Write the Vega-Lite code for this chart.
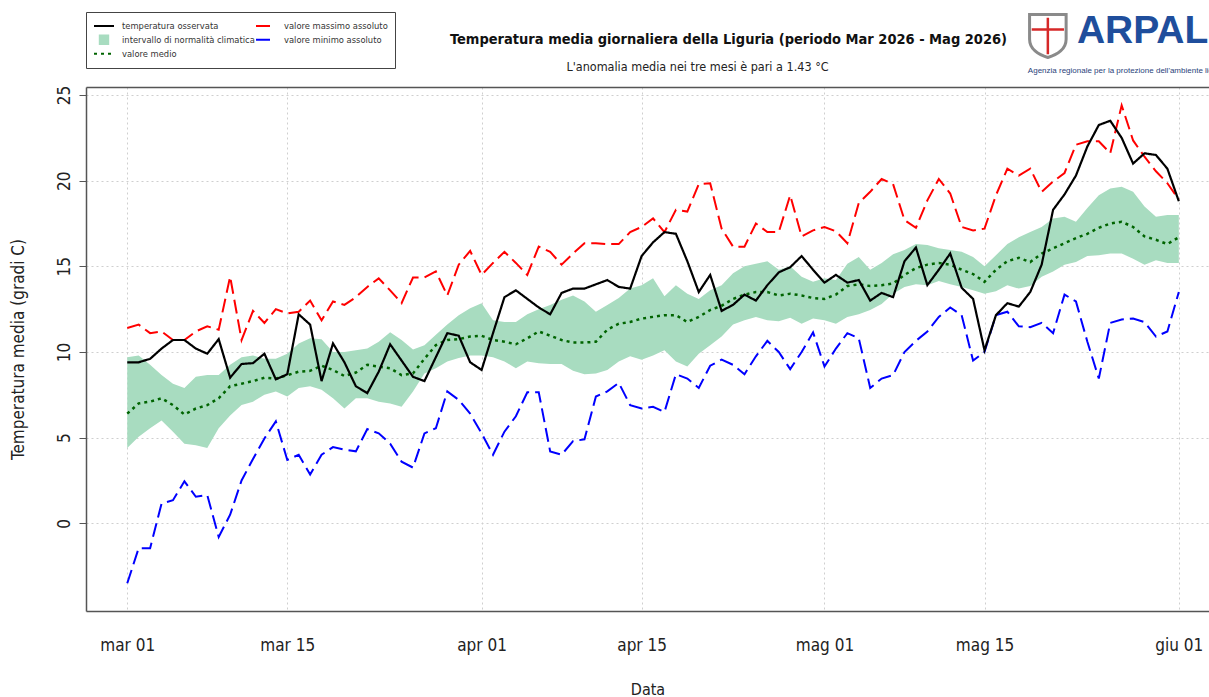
{
  "$schema": "https://vega.github.io/schema/vega-lite/v6.json",
  "width": 1123,
  "height": 524,
  "autosize": {"type": "none"},
  "padding": {"left": 86, "top": 87, "right": 0, "bottom": 86},
  "background": "white",
  "config": {
    "view": {"stroke": null},
    "font": "'Liberation Sans Narrow', 'DejaVu Sans Condensed', sans-serif"
  },
  "title": {
    "text": "Temperatura media giornaliera della Liguria (periodo Mar 2026 - Mag 2026)",
    "anchor": "middle",
    "frame": "group",
    "dx": 81,
    "offset": 0,
    "dy": 39,
    "fontSize": 14.5,
    "fontWeight": "bold",
    "color": "#111111"
  },
  "data": {
    "values": [
      {"data": "2026-03-01", "osservata": 9.4, "massimo": 11.4, "minimo": -3.5, "medio": 6.4, "inf": 4.4, "sup": 9.7},
      {"data": "2026-03-02", "osservata": 9.4, "massimo": 11.6, "minimo": -1.45, "medio": 7.0, "inf": 5.05, "sup": 9.8},
      {"data": "2026-03-03", "osservata": 9.6, "massimo": 11.1, "minimo": -1.45, "medio": 7.1, "inf": 5.55, "sup": 9.25},
      {"data": "2026-03-04", "osservata": 10.2, "massimo": 11.2, "minimo": 1.15, "medio": 7.3, "inf": 6.0, "sup": 8.65},
      {"data": "2026-03-05", "osservata": 10.7, "massimo": 10.7, "minimo": 1.35, "medio": 6.9, "inf": 5.35, "sup": 8.15},
      {"data": "2026-03-06", "osservata": 10.7, "massimo": 10.7, "minimo": 2.45, "medio": 6.35, "inf": 4.65, "sup": 7.9},
      {"data": "2026-03-07", "osservata": 10.2, "massimo": 11.2, "minimo": 1.55, "medio": 6.7, "inf": 4.55, "sup": 8.55},
      {"data": "2026-03-08", "osservata": 9.9, "massimo": 11.5, "minimo": 1.65, "medio": 6.9, "inf": 4.4, "sup": 8.65},
      {"data": "2026-03-09", "osservata": 10.75, "massimo": 11.3, "minimo": -0.8, "medio": 7.3, "inf": 5.55, "sup": 8.65},
      {"data": "2026-03-10", "osservata": 8.5, "massimo": 14.4, "minimo": 0.5, "medio": 8.0, "inf": 6.3, "sup": 9.25},
      {"data": "2026-03-11", "osservata": 9.3, "massimo": 10.7, "minimo": 2.5, "medio": 8.15, "inf": 6.9, "sup": 9.7},
      {"data": "2026-03-12", "osservata": 9.35, "massimo": 12.4, "minimo": 3.75, "medio": 8.3, "inf": 7.1, "sup": 9.8},
      {"data": "2026-03-13", "osservata": 9.9, "massimo": 11.7, "minimo": 4.95, "medio": 8.5, "inf": 7.5, "sup": 9.6},
      {"data": "2026-03-14", "osservata": 8.4, "massimo": 12.5, "minimo": 5.95, "medio": 8.45, "inf": 7.7, "sup": 9.6},
      {"data": "2026-03-15", "osservata": 8.7, "massimo": 12.25, "minimo": 3.7, "medio": 8.65, "inf": 7.4, "sup": 9.9},
      {"data": "2026-03-16", "osservata": 12.2, "massimo": 12.35, "minimo": 4.0, "medio": 8.85, "inf": 7.9, "sup": 10.5},
      {"data": "2026-03-17", "osservata": 11.6, "massimo": 13.0, "minimo": 2.85, "medio": 8.9, "inf": 8.0, "sup": 10.8},
      {"data": "2026-03-18", "osservata": 8.3, "massimo": 11.85, "minimo": 4.0, "medio": 9.2, "inf": 7.8, "sup": 10.75},
      {"data": "2026-03-19", "osservata": 10.5, "massimo": 12.95, "minimo": 4.45, "medio": 8.95, "inf": 7.3, "sup": 10.0},
      {"data": "2026-03-20", "osservata": 9.4, "massimo": 12.75, "minimo": 4.3, "medio": 8.6, "inf": 6.7, "sup": 10.0},
      {"data": "2026-03-21", "osservata": 8.0, "massimo": 13.2, "minimo": 4.2, "medio": 8.8, "inf": 7.3, "sup": 10.1},
      {"data": "2026-03-22", "osservata": 7.6, "massimo": 13.8, "minimo": 5.5, "medio": 9.25, "inf": 7.3, "sup": 10.2},
      {"data": "2026-03-23", "osservata": 8.85, "massimo": 14.3, "minimo": 5.25, "medio": 9.15, "inf": 7.1, "sup": 10.6},
      {"data": "2026-03-24", "osservata": 10.45, "massimo": 13.6, "minimo": 4.65, "medio": 9.05, "inf": 7.0, "sup": 11.15},
      {"data": "2026-03-25", "osservata": 9.5, "massimo": 12.85, "minimo": 3.6, "medio": 8.65, "inf": 6.8, "sup": 10.7},
      {"data": "2026-03-26", "osservata": 8.55, "massimo": 14.35, "minimo": 3.25, "medio": 8.75, "inf": 7.7, "sup": 10.15},
      {"data": "2026-03-27", "osservata": 8.3, "massimo": 14.35, "minimo": 5.25, "medio": 9.6, "inf": 8.75, "sup": 10.4},
      {"data": "2026-03-28", "osservata": 9.7, "massimo": 14.7, "minimo": 5.55, "medio": 10.4, "inf": 9.05, "sup": 11.0},
      {"data": "2026-03-29", "osservata": 11.1, "massimo": 13.3, "minimo": 7.7, "medio": 10.7, "inf": 9.45, "sup": 11.6},
      {"data": "2026-03-30", "osservata": 10.95, "massimo": 15.1, "minimo": 7.2, "medio": 10.75, "inf": 9.65, "sup": 12.15},
      {"data": "2026-03-31", "osservata": 9.4, "massimo": 15.9, "minimo": 6.4, "medio": 10.9, "inf": 9.8, "sup": 12.55},
      {"data": "2026-04-01", "osservata": 8.95, "massimo": 14.5, "minimo": 5.25, "medio": 10.95, "inf": 9.8, "sup": 12.85},
      {"data": "2026-04-02", "osservata": 11.1, "massimo": 15.2, "minimo": 4.0, "medio": 10.7, "inf": 9.7, "sup": 11.85},
      {"data": "2026-04-03", "osservata": 13.2, "massimo": 15.85, "minimo": 5.35, "medio": 10.6, "inf": 9.45, "sup": 11.75},
      {"data": "2026-04-04", "osservata": 13.6, "massimo": 15.2, "minimo": 6.25, "medio": 10.45, "inf": 9.05, "sup": 11.75},
      {"data": "2026-04-05", "osservata": 13.1, "massimo": 14.5, "minimo": 7.65, "medio": 10.8, "inf": 9.45, "sup": 12.2},
      {"data": "2026-04-06", "osservata": 12.6, "massimo": 16.15, "minimo": 7.65, "medio": 11.2, "inf": 9.35, "sup": 12.5},
      {"data": "2026-04-07", "osservata": 12.2, "massimo": 15.85, "minimo": 4.2, "medio": 10.95, "inf": 9.3, "sup": 12.75},
      {"data": "2026-04-08", "osservata": 13.45, "massimo": 15.1, "minimo": 4.0, "medio": 10.7, "inf": 9.3, "sup": 13.05},
      {"data": "2026-04-09", "osservata": 13.7, "massimo": 15.75, "minimo": 4.8, "medio": 10.55, "inf": 8.9, "sup": 13.3},
      {"data": "2026-04-10", "osservata": 13.7, "massimo": 16.35, "minimo": 4.9, "medio": 10.55, "inf": 8.7, "sup": 12.95},
      {"data": "2026-04-11", "osservata": 13.95, "massimo": 16.35, "minimo": 7.4, "medio": 10.6, "inf": 8.75, "sup": 12.35},
      {"data": "2026-04-12", "osservata": 14.2, "massimo": 16.3, "minimo": 7.7, "medio": 11.3, "inf": 8.95, "sup": 12.75},
      {"data": "2026-04-13", "osservata": 13.8, "massimo": 16.3, "minimo": 8.2, "medio": 11.65, "inf": 9.45, "sup": 13.15},
      {"data": "2026-04-14", "osservata": 13.7, "massimo": 17.0, "minimo": 6.9, "medio": 11.75, "inf": 9.75, "sup": 13.7},
      {"data": "2026-04-15", "osservata": 15.6, "massimo": 17.3, "minimo": 6.7, "medio": 11.95, "inf": 9.55, "sup": 13.9},
      {"data": "2026-04-16", "osservata": 16.4, "massimo": 17.8, "minimo": 6.8, "medio": 12.05, "inf": 9.8, "sup": 14.3},
      {"data": "2026-04-17", "osservata": 17.0, "massimo": 17.0, "minimo": 6.5, "medio": 12.15, "inf": 10.1, "sup": 13.25},
      {"data": "2026-04-18", "osservata": 16.9, "massimo": 18.3, "minimo": 8.7, "medio": 12.15, "inf": 9.45, "sup": 13.9},
      {"data": "2026-04-19", "osservata": 15.3, "massimo": 18.2, "minimo": 8.45, "medio": 11.75, "inf": 9.15, "sup": 13.4},
      {"data": "2026-04-20", "osservata": 13.5, "massimo": 19.8, "minimo": 7.9, "medio": 12.05, "inf": 9.9, "sup": 13.1},
      {"data": "2026-04-21", "osservata": 14.5, "massimo": 19.85, "minimo": 9.2, "medio": 12.45, "inf": 10.4, "sup": 13.6},
      {"data": "2026-04-22", "osservata": 12.4, "massimo": 17.2, "minimo": 9.55, "medio": 12.7, "inf": 10.9, "sup": 13.9},
      {"data": "2026-04-23", "osservata": 12.75, "massimo": 16.15, "minimo": 9.25, "medio": 13.1, "inf": 11.6, "sup": 14.6},
      {"data": "2026-04-24", "osservata": 13.35, "massimo": 16.15, "minimo": 8.7, "medio": 13.35, "inf": 11.85, "sup": 15.0},
      {"data": "2026-04-25", "osservata": 13.0, "massimo": 17.5, "minimo": 9.75, "medio": 13.5, "inf": 12.05, "sup": 15.15},
      {"data": "2026-04-26", "osservata": 13.9, "massimo": 17.0, "minimo": 10.65, "medio": 13.5, "inf": 11.85, "sup": 15.3},
      {"data": "2026-04-27", "osservata": 14.65, "massimo": 17.0, "minimo": 10.0, "medio": 13.3, "inf": 11.8, "sup": 14.8},
      {"data": "2026-04-28", "osservata": 14.95, "massimo": 19.15, "minimo": 9.0, "medio": 13.4, "inf": 12.0, "sup": 15.0},
      {"data": "2026-04-29", "osservata": 15.6, "massimo": 16.75, "minimo": 10.0, "medio": 13.3, "inf": 11.65, "sup": 14.4},
      {"data": "2026-04-30", "osservata": 14.8, "massimo": 17.1, "minimo": 11.15, "medio": 13.15, "inf": 11.95, "sup": 14.1},
      {"data": "2026-05-01", "osservata": 14.05, "massimo": 17.3, "minimo": 9.15, "medio": 13.1, "inf": 11.85, "sup": 14.3},
      {"data": "2026-05-02", "osservata": 14.5, "massimo": 17.05, "minimo": 10.2, "medio": 13.35, "inf": 11.65, "sup": 14.2},
      {"data": "2026-05-03", "osservata": 14.05, "massimo": 16.35, "minimo": 11.1, "medio": 13.85, "inf": 12.05, "sup": 15.15},
      {"data": "2026-05-04", "osservata": 14.2, "massimo": 18.7, "minimo": 10.8, "medio": 13.95, "inf": 12.2, "sup": 15.55},
      {"data": "2026-05-05", "osservata": 13.0, "massimo": 19.35, "minimo": 7.9, "medio": 13.85, "inf": 12.45, "sup": 14.8},
      {"data": "2026-05-06", "osservata": 13.45, "massimo": 20.1, "minimo": 8.45, "medio": 13.9, "inf": 12.8, "sup": 15.2},
      {"data": "2026-05-07", "osservata": 13.2, "massimo": 19.8, "minimo": 8.65, "medio": 14.0, "inf": 13.4, "sup": 15.7},
      {"data": "2026-05-08", "osservata": 15.3, "massimo": 17.7, "minimo": 10.0, "medio": 14.5, "inf": 13.8, "sup": 15.95},
      {"data": "2026-05-09", "osservata": 16.1, "massimo": 17.25, "minimo": 10.65, "medio": 14.9, "inf": 13.95, "sup": 16.3},
      {"data": "2026-05-10", "osservata": 13.9, "massimo": 18.85, "minimo": 11.2, "medio": 15.1, "inf": 13.9, "sup": 16.25},
      {"data": "2026-05-11", "osservata": 14.8, "massimo": 20.1, "minimo": 12.05, "medio": 15.2, "inf": 14.15, "sup": 16.05},
      {"data": "2026-05-12", "osservata": 15.75, "massimo": 19.25, "minimo": 12.6, "medio": 15.1, "inf": 13.95, "sup": 15.95},
      {"data": "2026-05-13", "osservata": 13.75, "massimo": 17.3, "minimo": 12.15, "medio": 14.8, "inf": 13.8, "sup": 15.85},
      {"data": "2026-05-14", "osservata": 13.1, "massimo": 17.1, "minimo": 9.5, "medio": 14.55, "inf": 13.6, "sup": 15.55},
      {"data": "2026-05-15", "osservata": 10.1, "massimo": 17.2, "minimo": 10.0, "medio": 14.1, "inf": 13.4, "sup": 15.0},
      {"data": "2026-05-16", "osservata": 12.15, "massimo": 19.15, "minimo": 12.15, "medio": 14.8, "inf": 13.55, "sup": 15.65},
      {"data": "2026-05-17", "osservata": 12.85, "massimo": 20.7, "minimo": 12.35, "medio": 15.3, "inf": 13.9, "sup": 16.3},
      {"data": "2026-05-18", "osservata": 12.65, "massimo": 20.3, "minimo": 11.5, "medio": 15.5, "inf": 13.7, "sup": 16.7},
      {"data": "2026-05-19", "osservata": 13.5, "massimo": 20.7, "minimo": 11.45, "medio": 15.25, "inf": 13.85, "sup": 17.0},
      {"data": "2026-05-20", "osservata": 15.1, "massimo": 19.35, "minimo": 11.7, "medio": 15.75, "inf": 14.4, "sup": 17.3},
      {"data": "2026-05-21", "osservata": 18.3, "massimo": 19.95, "minimo": 11.1, "medio": 16.05, "inf": 14.7, "sup": 17.8},
      {"data": "2026-05-22", "osservata": 19.2, "massimo": 20.45, "minimo": 13.35, "medio": 16.35, "inf": 15.1, "sup": 17.9},
      {"data": "2026-05-23", "osservata": 20.3, "massimo": 22.1, "minimo": 12.95, "medio": 16.65, "inf": 15.25, "sup": 17.6},
      {"data": "2026-05-24", "osservata": 22.0, "massimo": 22.3, "minimo": 10.6, "medio": 16.9, "inf": 15.6, "sup": 18.4},
      {"data": "2026-05-25", "osservata": 23.25, "massimo": 22.3, "minimo": 8.45, "medio": 17.25, "inf": 15.65, "sup": 19.15},
      {"data": "2026-05-26", "osservata": 23.5, "massimo": 21.6, "minimo": 11.7, "medio": 17.5, "inf": 15.75, "sup": 19.55},
      {"data": "2026-05-27", "osservata": 22.5, "massimo": 24.4, "minimo": 11.9, "medio": 17.6, "inf": 15.75, "sup": 19.65},
      {"data": "2026-05-28", "osservata": 21.0, "massimo": 22.35, "minimo": 11.95, "medio": 17.3, "inf": 15.45, "sup": 19.35},
      {"data": "2026-05-29", "osservata": 21.6, "massimo": 21.4, "minimo": 11.75, "medio": 16.75, "inf": 15.1, "sup": 18.5},
      {"data": "2026-05-30", "osservata": 21.5, "massimo": 20.55, "minimo": 10.9, "medio": 16.55, "inf": 15.35, "sup": 17.9},
      {"data": "2026-05-31", "osservata": 20.7, "massimo": 19.85, "minimo": 11.2, "medio": 16.3, "inf": 15.2, "sup": 18.0},
      {"data": "2026-06-01", "osservata": 18.8, "massimo": 18.9, "minimo": 13.5, "medio": 16.7, "inf": 15.2, "sup": 18.0}
    ]
  },
  "resolve": {"axis": {"x": "independent"}},
  "layer": [
    {
      "mark": {"type": "area", "opacity": 1},
      "encoding": {
        "x": {
          "field": "data", "type": "temporal",
          "scale": {"type": "utc", "domain": [{"year": 2026, "month": 2, "date": 25, "hours": 9, "minutes": 22, "utc": true}, {"year": 2026, "month": 6, "date": 3, "hours": 15, "minutes": 22, "utc": true}]},
          "axis": {
            "orient": "bottom",
            "values": [
              {"year": 2026, "month": 3, "date": 1, "utc": true},
              {"year": 2026, "month": 3, "date": 15, "utc": true},
              {"year": 2026, "month": 4, "date": 1, "utc": true},
              {"year": 2026, "month": 4, "date": 15, "utc": true},
              {"year": 2026, "month": 5, "date": 1, "utc": true},
              {"year": 2026, "month": 5, "date": 15, "utc": true},
              {"year": 2026, "month": 6, "date": 1, "utc": true}
            ],
            "labelExpr": "['gen','feb','mar','apr','mag','giu','lug'][utcmonth(datum.value)] + ' ' + utcFormat(datum.value, '%d')",
            "labelOverlap": false,
            "labelFlush": false,
            "grid": true, "gridColor": "#cfcfcf", "gridDash": [2, 3], "gridWidth": 1,
            "ticks": false,
            "domain": true, "domainColor": "#555555", "domainWidth": 1.5,
            "labelFontSize": 17, "labelColor": "#222222", "labelPadding": 26,
            "title": "Data", "titleFontSize": 16, "titleFontWeight": "normal", "titleColor": "#222222",
            "titleY": 78, "titleBaseline": "middle"
          }
        },
        "y": {
          "field": "inf", "type": "quantitative",
          "scale": {"domain": [-5.12, 25.47], "nice": false, "zero": false},
          "axis": {
            "values": [0, 5, 10, 15, 20, 25],
            "grid": true, "gridColor": "#cfcfcf", "gridDash": [2, 3], "gridWidth": 1,
            "domain": true, "domainColor": "#555555", "domainWidth": 1.5,
            "ticks": true, "tickSize": 7, "tickColor": "#555555", "tickWidth": 1,
            "labelAngle": -90, "labelAlign": "center", "labelBaseline": "bottom", "labelPadding": 6,
            "labelFontSize": 17, "labelColor": "#222222", "labelOverlap": false, "labelFlush": false,
            "title": "Temperatura media (gradi C)", "titleFontSize": 17, "titleFontWeight": "normal", "titleColor": "#222222",
            "titleX": -68, "titleY": 262, "titleAngle": -90, "titleAlign": "center", "titleBaseline": "middle"
          }
        },
        "y2": {"field": "sup"},
        "color": {
          "datum": "intervallo di normalità climatica", "type": "nominal",
          "scale": {
            "domain": ["temperatura osservata", "intervallo di normalità climatica", "valore medio", "valore massimo assoluto", "valore minimo assoluto"],
            "range": ["#000000", "#a8dcc0", "#006400", "#ff0000", "#0000ff"]
          },
          "legend": {
            "orient": "none", "legendX": 0, "legendY": -75,
            "columns": 2, "title": null,
            "strokeColor": "#444444", "fillColor": "#ffffff", "padding": 7,
            "clipHeight": 13.5, "rowPadding": 0, "columnPadding": 0,
            "symbolSize": 400, "symbolStrokeWidth": 2, "symbolType": "stroke", "symbolOpacity": 1,
            "labelFontSize": 9.3, "labelColor": "#333333", "labelOffset": 7, "labelLimit": 300
          }
        }
      }
    },
    {
      "mark": {"type": "line", "strokeWidth": 2.5},
      "encoding": {
        "x": {"field": "data", "type": "temporal", "axis": null,
              "scale": {"type": "utc", "domain": [{"year": 2026, "month": 2, "date": 25, "hours": 9, "minutes": 22, "utc": true}, {"year": 2026, "month": 6, "date": 3, "hours": 15, "minutes": 22, "utc": true}]}},
        "y": {"field": "medio", "type": "quantitative", "scale": {"domain": [-5.12, 25.47], "nice": false, "zero": false}},
        "color": {"datum": "valore medio", "type": "nominal"},
        "strokeDash": {
          "datum": "valore medio", "type": "nominal",
          "scale": {
            "domain": ["temperatura osservata", "intervallo di normalità climatica", "valore medio", "valore massimo assoluto", "valore minimo assoluto"],
            "range": [[1, 0], [1, 0], [3, 4], [14, 6], [14, 6]]
          }
        }
      }
    },
    {
      "mark": {"type": "line", "strokeWidth": 2},
      "encoding": {
        "x": {"field": "data", "type": "temporal", "axis": null,
              "scale": {"type": "utc", "domain": [{"year": 2026, "month": 2, "date": 25, "hours": 9, "minutes": 22, "utc": true}, {"year": 2026, "month": 6, "date": 3, "hours": 15, "minutes": 22, "utc": true}]}},
        "y": {"field": "massimo", "type": "quantitative", "scale": {"domain": [-5.12, 25.47], "nice": false, "zero": false}},
        "color": {"datum": "valore massimo assoluto", "type": "nominal"},
        "strokeDash": {"datum": "valore massimo assoluto", "type": "nominal"}
      }
    },
    {
      "mark": {"type": "line", "strokeWidth": 2},
      "encoding": {
        "x": {"field": "data", "type": "temporal", "axis": null,
              "scale": {"type": "utc", "domain": [{"year": 2026, "month": 2, "date": 25, "hours": 9, "minutes": 22, "utc": true}, {"year": 2026, "month": 6, "date": 3, "hours": 15, "minutes": 22, "utc": true}]}},
        "y": {"field": "minimo", "type": "quantitative", "scale": {"domain": [-5.12, 25.47], "nice": false, "zero": false}},
        "color": {"datum": "valore minimo assoluto", "type": "nominal"},
        "strokeDash": {"datum": "valore minimo assoluto", "type": "nominal"}
      }
    },
    {
      "mark": {"type": "line", "strokeWidth": 2.2},
      "encoding": {
        "x": {"field": "data", "type": "temporal",
              "scale": {"type": "utc", "domain": [{"year": 2026, "month": 2, "date": 25, "hours": 9, "minutes": 22, "utc": true}, {"year": 2026, "month": 6, "date": 3, "hours": 15, "minutes": 22, "utc": true}]},
              "axis": {
                "orient": "top", "labels": false, "ticks": false, "grid": false,
                "domain": true, "domainColor": "#555555", "domainWidth": 1.5,
                "title": "L'anomalia media nei tre mesi è pari a 1.43 °C",
                "titleFontSize": 12.5, "titleFontWeight": "normal", "titleColor": "#222222",
                "titleX": 611, "titleY": -21, "titleAlign": "center", "titleBaseline": "middle"
              }},
        "y": {"field": "osservata", "type": "quantitative", "scale": {"domain": [-5.12, 25.47], "nice": false, "zero": false}},
        "color": {"datum": "temperatura osservata", "type": "nominal"},
        "strokeDash": {"datum": "temperatura osservata", "type": "nominal"}
      }
    },
    {
      "data": {"values": [{"k": 1}]},
      "mark": {"type": "point", "clip": true, "strokeWidth": 2},
      "encoding": {
        "x": {"datum": {"year": 2026, "month": 4, "date": 1, "utc": true}, "type": "temporal", "axis": null,
              "scale": {"type": "utc", "domain": [{"year": 2026, "month": 2, "date": 25, "hours": 9, "minutes": 22, "utc": true}, {"year": 2026, "month": 6, "date": 3, "hours": 15, "minutes": 22, "utc": true}]}},
        "y": {"datum": -200, "type": "quantitative", "scale": {"domain": [-5.12, 25.47], "nice": false, "zero": false}},
        "shape": {
          "datum": "intervallo di normalità climatica", "type": "nominal",
          "scale": {
            "domain": ["temperatura osservata", "intervallo di normalità climatica", "valore medio", "valore massimo assoluto", "valore minimo assoluto"],
            "range": ["stroke", "M-0.42,-0.42H0.42V0.42H-0.42Z", "stroke", "stroke", "stroke"]
          }
        }
      }
    },
    {
      "data": {"values": [{"k": "stemma"}]},
      "mark": {"type": "point", "filled": false, "shape": "M-0.85,-1H0.85V0.15C0.85,0.6 0.45,0.88 0,1C-0.45,0.88 -0.85,0.6 -0.85,0.15Z", "size": 1850, "fill": "#ffffff", "stroke": "#8a8a8a", "strokeWidth": 3, "opacity": 1},
      "encoding": {
        "x": {"datum": {"year": 2026, "month": 5, "date": 20, "hours": 13, "utc": true}, "type": "temporal", "axis": null,
              "scale": {"type": "utc", "domain": [{"year": 2026, "month": 2, "date": 25, "hours": 9, "minutes": 22, "utc": true}, {"year": 2026, "month": 6, "date": 3, "hours": 15, "minutes": 22, "utc": true}]}},
        "y": {"datum": 28.45, "type": "quantitative", "scale": {"domain": [-5.12, 25.47], "nice": false, "zero": false}}
      }
    },
    {
      "data": {"values": [{"k": "croce"}]},
      "mark": {"type": "point", "filled": false, "shape": "M0,-0.85V0.85M-0.75,-0.3H0.75", "size": 1850, "stroke": "#d62828", "strokeWidth": 2.5, "opacity": 1},
      "encoding": {
        "x": {"datum": {"year": 2026, "month": 5, "date": 20, "hours": 13, "utc": true}, "type": "temporal", "axis": null,
              "scale": {"type": "utc", "domain": [{"year": 2026, "month": 2, "date": 25, "hours": 9, "minutes": 22, "utc": true}, {"year": 2026, "month": 6, "date": 3, "hours": 15, "minutes": 22, "utc": true}]}},
        "y": {"datum": 28.45, "type": "quantitative", "scale": {"domain": [-5.12, 25.47], "nice": false, "zero": false}}
      }
    },
    {
      "data": {"values": [{"t": "ARPAL"}]},
      "mark": {"type": "text", "align": "left", "baseline": "alphabetic", "font": "Liberation Sans", "fontSize": 39, "fontWeight": "bold", "color": "#1f4e9c"},
      "encoding": {
        "x": {"datum": {"year": 2026, "month": 5, "date": 23, "hours": 2, "utc": true}, "type": "temporal", "axis": null,
              "scale": {"type": "utc", "domain": [{"year": 2026, "month": 2, "date": 25, "hours": 9, "minutes": 22, "utc": true}, {"year": 2026, "month": 6, "date": 3, "hours": 15, "minutes": 22, "utc": true}]}},
        "y": {"datum": 28.04, "type": "quantitative", "scale": {"domain": [-5.12, 25.47], "nice": false, "zero": false}},
        "text": {"field": "t"}
      }
    },
    {
      "data": {"values": [{"t": "Agenzia regionale per la protezione dell'ambiente ligure"}]},
      "mark": {"type": "text", "align": "left", "baseline": "alphabetic", "font": "Liberation Sans", "fontSize": 8, "color": "#2a3f7a"},
      "encoding": {
        "x": {"datum": {"year": 2026, "month": 5, "date": 18, "hours": 19, "utc": true}, "type": "temporal", "axis": null,
              "scale": {"type": "utc", "domain": [{"year": 2026, "month": 2, "date": 25, "hours": 9, "minutes": 22, "utc": true}, {"year": 2026, "month": 6, "date": 3, "hours": 15, "minutes": 22, "utc": true}]}},
        "y": {"datum": 26.29, "type": "quantitative", "scale": {"domain": [-5.12, 25.47], "nice": false, "zero": false}},
        "text": {"field": "t"}
      }
    }
  ]
}
